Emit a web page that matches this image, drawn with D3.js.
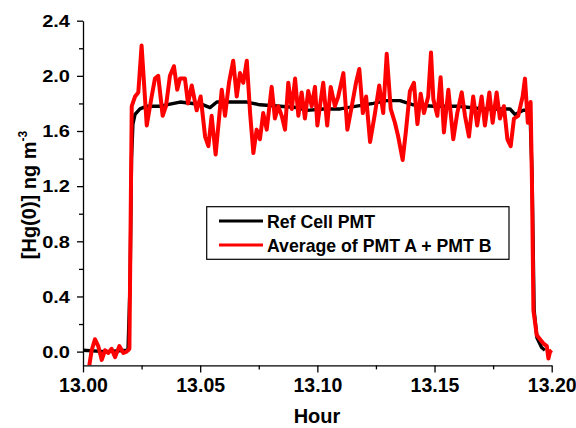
<!DOCTYPE html>
<html>
  <head>
    <meta charset="UTF-8">
    <title>Hg(0) PMT comparison</title>
    <style>
      body { margin: 0; background: #fff; }
      svg text { font-family: 'Liberation Sans', Arial, sans-serif; font-weight: bold; }
    </style>
  </head>
  <body>
    <div id='chart'></div>
    <script src='https://d3js.org/d3.v7.min.js'></script>
    <script>
      // data
      const refHour = [13.0001, 13.0094, 13.0192, 13.0201, 13.0207, 13.0213, 13.0222, 13.0243, 13.0272, 13.0329,
        13.0414, 13.0513, 13.0542, 13.0571, 13.0699, 13.0755, 13.0841, 13.0912, 13.0955, 13.1025,
        13.1097, 13.1168, 13.1239, 13.1296, 13.1353, 13.1409, 13.1495, 13.1601, 13.1708, 13.1779,
        13.1822, 13.1843, 13.1879, 13.1907, 13.1916, 13.1925, 13.1937, 13.1957, 13.1971];
      const refValue = [0.01, 0.00, 0.01, 0.50, 1.40, 1.65, 1.72, 1.76, 1.78, 1.78,
        1.81, 1.79, 1.77, 1.81, 1.81, 1.79, 1.78, 1.77, 1.75, 1.76,
        1.76, 1.78, 1.80, 1.82, 1.82, 1.79, 1.78, 1.78, 1.76, 1.76,
        1.76, 1.72, 1.75, 1.75, 1.30, 0.30, 0.10, 0.03, 0.01];

      const avgHour = [13.0027, 13.0037, 13.0051, 13.0065, 13.0080, 13.0094, 13.0108, 13.0122, 13.0137, 13.0155,
        13.0172, 13.0186, 13.0198, 13.0208, 13.0222, 13.0236, 13.0250, 13.0272, 13.0293, 13.0307,
        13.0321, 13.0340, 13.0354, 13.0371, 13.0388, 13.0402, 13.0414, 13.0435, 13.0448, 13.0464,
        13.0485, 13.0502, 13.0521, 13.0535, 13.0549, 13.0566, 13.0592, 13.0606, 13.0623, 13.0641,
        13.0656, 13.0670, 13.0684, 13.0699, 13.0713, 13.0727, 13.0741, 13.0755, 13.0769, 13.0784,
        13.0805, 13.0819, 13.0833, 13.0848, 13.0862, 13.0876, 13.0891, 13.0905, 13.0919, 13.0933,
        13.0947, 13.0961, 13.0976, 13.0990, 13.1000, 13.1011, 13.1025, 13.1042, 13.1057, 13.1075,
        13.1089, 13.1111, 13.1128, 13.1147, 13.1165, 13.1179, 13.1194, 13.1208, 13.1225, 13.1246,
        13.1264, 13.1281, 13.1296, 13.1313, 13.1331, 13.1345, 13.1364, 13.1378, 13.1395, 13.1412,
        13.1427, 13.1441, 13.1455, 13.1473, 13.1485, 13.1495, 13.1512, 13.1526, 13.1540, 13.1559,
        13.1580, 13.1597, 13.1616, 13.1630, 13.1647, 13.1665, 13.1682, 13.1701, 13.1715, 13.1734,
        13.1748, 13.1765, 13.1779, 13.1796, 13.1811, 13.1825, 13.1839, 13.1857, 13.1876, 13.1886,
        13.1898, 13.1910, 13.1916, 13.1922, 13.1936, 13.1950, 13.1964, 13.1979, 13.1986, 13.1993,
        13.2000];
      const avgValue = [-0.10, 0.01, 0.09, 0.04, -0.06, 0.01, -0.01, 0.02, -0.04, 0.04,
        -0.01, 0.00, 0.02, 1.78, 1.85, 1.88, 2.22, 1.64, 1.85, 1.98,
        2.00, 1.71, 1.78, 2.00, 2.07, 1.90, 1.98, 1.98, 1.80, 1.93,
        1.75, 1.85, 1.56, 1.49, 1.71, 1.43, 1.90, 1.71, 1.95, 2.11,
        1.85, 2.02, 1.95, 2.11, 1.73, 1.44, 1.61, 1.54, 1.73, 1.61,
        1.92, 1.69, 1.78, 1.71, 1.61, 1.95, 1.76, 1.98, 1.71, 1.88,
        1.69, 1.89, 1.78, 1.92, 1.64, 1.78, 1.95, 1.64, 1.92, 1.78,
        1.85, 2.02, 1.61, 1.78, 1.95, 2.05, 1.73, 1.85, 1.52, 1.73,
        1.93, 1.73, 2.16, 1.76, 1.66, 1.56, 1.39, 1.60, 1.89, 1.95,
        1.65, 1.87, 1.73, 1.85, 2.17, 1.83, 1.71, 1.99, 1.59, 1.90,
        1.54, 1.73, 1.88, 1.71, 1.56, 1.85, 1.64, 1.85, 1.64, 1.88,
        1.66, 1.88, 1.69, 1.78, 1.54, 1.49, 1.69, 1.71, 1.85, 1.98,
        1.66, 1.81, 1.20, 0.30, 0.12, 0.09, 0.06, 0.04, -0.05, 0.00,
        0.01];

      const xTicks = [13.00, 13.05, 13.10, 13.15, 13.20];
      const yTicks = [0.0, 0.4, 0.8, 1.2, 1.6, 2.0, 2.4];
      const legendLabels = ['Ref Cell PMT', 'Average of PMT A + PMT B'];
      const seriesColors = ['#000000', '#ff0000'];

      const width = 576;
      const height = 428;
      const margin = { left: 83, right: 24.3, top: 20.7, bottom: 62.6 };

      const svg = d3.select('#chart')
        .append('svg')
        .attr('width', width)
        .attr('height', height);

      const x = d3.scaleLinear()
        .domain([13.0, 13.2])
        .range([margin.left, width - margin.right]);

      const y = d3.scaleLinear()
        .domain([-0.1, 2.4])
        .range([height - margin.bottom, margin.top]);

      svg.append('clipPath')
        .attr('id', 'plot-clip')
        .append('rect')
        .attr('x', margin.left)
        .attr('y', margin.top - 5)
        .attr('width', width - margin.left - margin.right + 4)
        .attr('height', height - margin.top - margin.bottom + 5);

      const line = d3.line()
        .x((d) => x(d[0]))
        .y((d) => y(d[1]));

      const plot = svg.append('g').attr('clip-path', 'url(#plot-clip)');

      plot.append('path')
        .datum(d3.zip(refHour, refValue))
        .attr('fill', 'none')
        .attr('stroke', seriesColors[0])
        .attr('stroke-width', 3.4)
        .attr('stroke-linejoin', 'round')
        .attr('d', line);

      plot.append('path')
        .datum(d3.zip(avgHour, avgValue))
        .attr('fill', 'none')
        .attr('stroke', seriesColors[1])
        .attr('stroke-width', 4)
        .attr('stroke-linejoin', 'round')
        .attr('d', line);

      // minor ticks first, major ticks with labels on top
      svg.append('g')
        .attr('transform', `translate(0,${y(-0.1)})`)
        .call(d3.axisBottom(x).tickValues(d3.range(13.025, 13.2, 0.05)).tickSize(4).tickFormat(''))
        .call((g) => g.select('.domain').remove());

      const xAxis = svg.append('g')
        .attr('transform', `translate(0,${y(-0.1)})`)
        .call(d3.axisBottom(x).tickValues(xTicks).tickSize(7).tickSizeOuter(0).tickFormat(d3.format('.2f')));
      xAxis.selectAll('text')
        .attr('y', 27)
        .attr('dy', 0)
        .attr('font-size', 19.5)
        .attr('fill', '#000');

      svg.append('g')
        .attr('transform', `translate(${margin.left},0)`)
        .call(d3.axisLeft(y).tickValues(d3.range(0.2, 2.4, 0.4)).tickSize(4).tickFormat(''))
        .call((g) => g.select('.domain').remove());

      const yAxis = svg.append('g')
        .attr('transform', `translate(${margin.left},0)`)
        .call(d3.axisLeft(y).tickValues(yTicks).tickSize(6).tickSizeOuter(0).tickFormat(d3.format('.1f')));
      yAxis.selectAll('text')
        .attr('x', -13 / 1.25)
        .attr('dy', '0.36em')
        .attr('font-size', 16)
        .attr('fill', '#000')
        .attr('transform', 'scale(1.25,1)');

      svg.selectAll('.domain, .tick line')
        .attr('stroke', '#000')
        .attr('stroke-width', 1.3);

      svg.append('text')
        .attr('x', 317)
        .attr('y', 423)
        .attr('text-anchor', 'middle')
        .attr('font-size', 20)
        .text('Hour');

      const yLabel = svg.append('text')
        .attr('transform', 'translate(36,195) rotate(-90)')
        .attr('text-anchor', 'middle')
        .attr('font-size', 20);
      yLabel.append('tspan').text('[Hg(0)] ng m');
      yLabel.append('tspan')
        .attr('font-size', 12)
        .attr('dy', -9)
        .text('-3');

      const legend = svg.append('g');
      legend.append('rect')
        .attr('x', 206.7)
        .attr('y', 206.7)
        .attr('width', 302.3)
        .attr('height', 52.6)
        .attr('fill', '#fff')
        .attr('stroke', '#000')
        .attr('stroke-width', 1.2);

      legendLabels.forEach((label, i) => {
        const ly = 221 + i * 24;
        legend.append('line')
          .attr('x1', 219)
          .attr('x2', 263)
          .attr('y1', ly)
          .attr('y2', ly)
          .attr('stroke', seriesColors[i])
          .attr('stroke-width', 3);
        legend.append('text')
          .attr('x', 267)
          .attr('y', ly + 7)
          .attr('font-size', 17.7)
          .text(label);
      });
    </script>
  </body>
</html>
